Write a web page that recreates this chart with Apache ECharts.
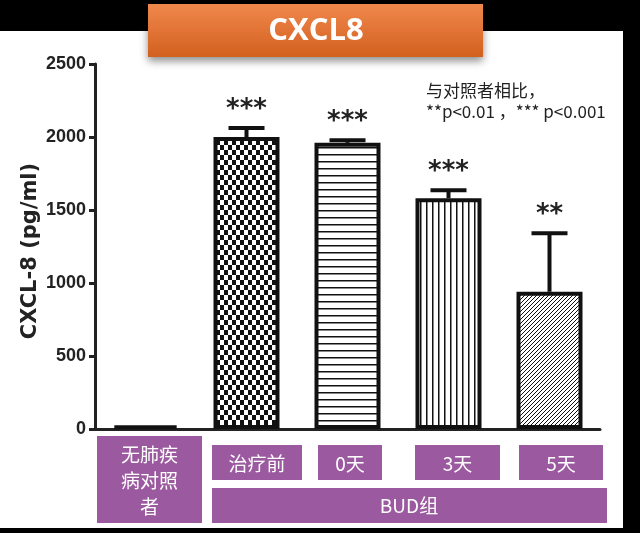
<!DOCTYPE html>
<html><head><meta charset="utf-8">
<script src="https://cdn.jsdelivr.net/npm/echarts@6/dist/echarts.min.js"></script>
<style>html,body{margin:0;padding:0;background:#000;}#c{width:640px;height:533px;}</style>
</head><body><div id="c"></div>
<script>
// ---- data ----
var categories = ['无肺疾病对照者', '治疗前', '0天', '3天', '5天'];
var groupLabel = 'BUD组';
var means = [25, 2000, 1960, 1580, 940];
var errors = [4, 62, 18, 55, 400];
var stars = ['', '***', '***', '***', '**'];
var yTicks = { min: 0, max: 2500, interval: 500 };
var titleText = 'CXCL8';
var yName = 'CXCL-8 (pg/ml)';
var noteLines = ['与对照者相比，', '**p<0.01 ，*** p<0.001'];

// ---- patterns ----
function mk(w, h, draw) {
  var c = document.createElement('canvas'); c.width = w; c.height = h;
  var g = c.getContext('2d'); g.fillStyle = '#fff'; g.fillRect(0, 0, w, h);
  g.fillStyle = '#111'; g.strokeStyle = '#111'; draw(g); return c;
}
var patSolid = '#111';
var patChecker = mk(8, 10, function (g) { g.fillRect(0, 0, 4, 5); g.fillRect(4, 5, 4, 5); });
var patHoriz = mk(4, 7, function (g) { g.fillRect(0, 0, 4, 1.5); });
var patVert = mk(6, 4, function (g) { g.fillRect(0, 0, 1.5, 4); });
var patDiag = mk(4, 4, function (g) {
  g.lineWidth = 1;
  g.beginPath(); g.moveTo(0, 4); g.lineTo(4, 0); g.moveTo(-1, 1); g.lineTo(1, -1); g.moveTo(3, 5); g.lineTo(5, 3); g.stroke();
});
var fills = [patSolid, { image: patChecker, repeat: 'repeat' }, { image: patHoriz, repeat: 'repeat' },
  { image: patVert, repeat: 'repeat' }, { image: patDiag, repeat: 'repeat' }];

var chart = echarts.init(document.getElementById('c'), null, { renderer: 'canvas' });

var barData = means.map(function (v, i) {
  return { value: v, itemStyle: { color: fills[i] } };
});
var errData = means.map(function (v, i) { return [i, v, v + errors[i]]; });

var cjk = '"Noto Sans CJK SC", "Noto Sans", sans-serif';
var purple = '#9B5A9F';

function boxes() {
  var rects = [
    [97, 436, 105, 87], [212, 445, 90, 35], [318, 445, 64, 35], [415, 445, 85, 35], [519, 445, 84, 35]
  ];
  var els = [];
  rects.forEach(function (r, i) {
    var txt = categories[i];
    if (txt.length > 3) {
      var parts = [];
      for (var k = 0; k < txt.length; k += 3) parts.push(txt.slice(k, k + 3));
      txt = parts.join('\n');
    }
    els.push({ type: 'rect', shape: { x: r[0], y: r[1], width: r[2], height: r[3] }, style: { fill: purple }, z: 10 });
    els.push({ type: 'text', x: r[0] + r[2] / 2, y: r[1] + r[3] / 2 + 1, z: 11,
      style: { text: txt, fill: '#fff', font: '19px ' + cjk, align: 'center', verticalAlign: 'middle', lineHeight: 26 } });
  });
  els.push({ type: 'rect', shape: { x: 212, y: 488, width: 395, height: 35 }, style: { fill: purple }, z: 10 });
  els.push({ type: 'text', x: 409, y: 506, z: 11,
    style: { text: groupLabel, fill: '#fff', font: '19px ' + cjk, align: 'center', verticalAlign: 'middle' } });
  return els;
}

var graphics = [
  { type: 'rect', shape: { x: 0, y: 31, width: 623, height: 497 }, style: { fill: '#fff' }, z: -10 },
  { type: 'rect', shape: { x: 148, y: 4, width: 335, height: 53 }, z: 20,
    style: { fill: new echarts.graphic.LinearGradient(0, 0, 0, 1, [{ offset: 0, color: '#F0884C' }, { offset: 1, color: '#D2601F' }]),
      shadowBlur: 8, shadowOffsetY: 4, shadowColor: 'rgba(0,0,0,0.45)' } },
  { type: 'text', x: 316, y: 31, z: 21,
    style: { text: titleText, fill: '#fff', font: 'bold 31px "Open Sans", sans-serif', align: 'center', verticalAlign: 'middle' } },
  { type: 'text', x: 426, y: 91, z: 5,
    style: { text: noteLines[0], fill: '#222', font: '17px ' + cjk, align: 'left', verticalAlign: 'middle' } },
  { type: 'text', x: 426, y: 112, z: 5,
    style: { text: noteLines[1], fill: '#222', font: '17px ' + cjk, align: 'left', verticalAlign: 'middle' } },
  { type: 'text', x: 31, y: 251, rotation: Math.PI / 2, z: 5,
    style: { text: yName, fill: '#222', font: 'bold 21px "DejaVu Sans", sans-serif', align: 'center', verticalAlign: 'middle' } }
].concat(boxes());

chart.setOption({
  backgroundColor: '#000',
  animation: false,
  grid: { left: 95, right: 40, top: 64, bottom: 104, containLabel: false },
  xAxis: {
    type: 'category', data: categories,
    axisLine: { lineStyle: { color: '#222', width: 3 } },
    axisTick: { alignWithLabel: true, length: 7, lineStyle: { color: '#222', width: 3 } },
    axisLabel: { show: false },
    splitLine: { show: false }
  },
  yAxis: {
    type: 'value', min: yTicks.min, max: yTicks.max, interval: yTicks.interval,
    axisLine: { show: true, lineStyle: { color: '#222', width: 3 } },
    axisTick: { show: true, length: 6, lineStyle: { color: '#222', width: 3 } },
    axisLabel: { margin: 9, formatter: function (v) { return String(v); },
      fontFamily: '"Liberation Sans Narrow", "Liberation Sans", Arial, sans-serif', fontWeight: 'bold', fontSize: 18, color: '#222' },
    splitLine: { show: false }
  },
  series: [
    { type: 'bar', data: barData, barWidth: 66, z: 2,
      itemStyle: { borderColor: '#111', borderWidth: 4 } },
    { type: 'custom', data: errData, z: 3,
      renderItem: function (params, api) {
        var i = api.value(0);
        var top = api.coord([i, api.value(2)]);
        var base = api.coord([i, api.value(1)]);
        var half = 18;
        var ch = [];
        if (api.value(2) > api.value(1) + 5) {
          ch.push({ type: 'line', shape: { x1: top[0], y1: top[1], x2: base[0], y2: base[1] }, style: { stroke: '#111', lineWidth: 4 } });
          ch.push({ type: 'line', shape: { x1: top[0] - half, y1: top[1], x2: top[0] + half, y2: top[1] }, style: { stroke: '#111', lineWidth: 4 } });
        }
        var s = stars[params.dataIndex];
        if (s) {
          ch.push({ type: 'text', x: top[0], y: top[1] - 18,
            style: { text: s, fill: '#222', font: 'bold 26px "DejaVu Sans", sans-serif', align: 'center', verticalAlign: 'middle' } });
        }
        return { type: 'group', children: ch };
      }
    }
  ],
  graphic: graphics
});
</script></body></html>
